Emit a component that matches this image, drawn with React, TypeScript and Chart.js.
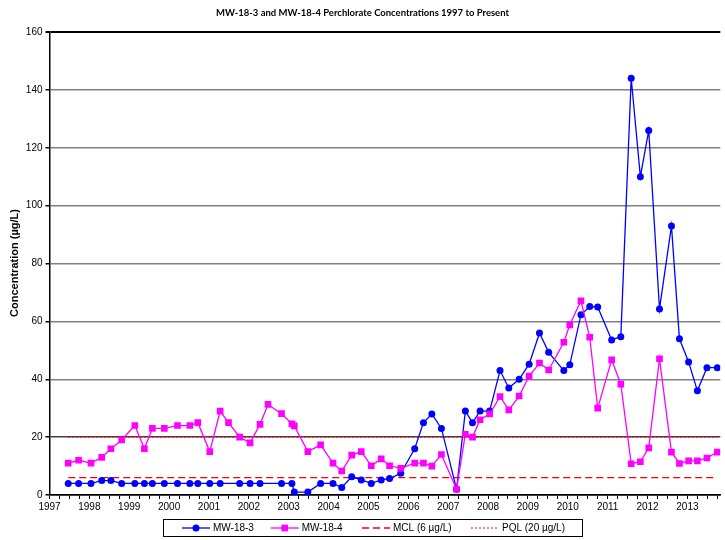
import React, { useEffect, useRef } from 'react';
import { Chart, registerables } from 'chart.js';

Chart.register(...registerables);

const TITLE = 'MW-18-3 and MW-18-4 Perchlorate Concentrations 1997 to Present';
const Y_TITLE = 'Concentration (µg/L)';

// Sampling dates as decimal years
const sampleDates = [
  1997.47, 1997.73, 1998.04, 1998.31, 1998.54, 1998.81, 1999.14, 1999.38, 1999.58, 1999.88,
  2000.21, 2000.52, 2000.72, 2001.02, 2001.28, 2001.49, 2001.77, 2002.03, 2002.28, 2002.48,
  2002.82, 2003.08, 2003.14, 2003.48, 2003.8, 2004.11, 2004.33, 2004.58, 2004.82, 2005.07,
  2005.32, 2005.53, 2005.81, 2006.16, 2006.38, 2006.59, 2006.83, 2007.21, 2007.43, 2007.61,
  2007.8, 2008.04, 2008.3, 2008.52, 2008.78, 2009.03, 2009.29, 2009.52, 2009.9, 2010.05,
  2010.33, 2010.55, 2010.75, 2011.1, 2011.33, 2011.59, 2011.82, 2012.03, 2012.3, 2012.6,
  2012.8, 2013.03, 2013.25, 2013.49, 2013.75,
];

const mw183 = [
  4, 4, 4, 5, 5, 4, 4, 4, 4, 4,
  4, 4, 4, 4, 4, null, 4, 4, 4, null,
  4, 4, 1, 1, 4, 4, 2.6, 6.3, 5.2, 4,
  5.2, 5.7, 7.5, 16, 25, 28, 23, 2, 29, 25,
  29, 29, 43, 37, 40, 45.2, 56, 49.3, 43, 45,
  62.3, 65.1, 65, 53.6, 54.7, 144, 110, 126, 64.3, 93,
  54, 46, 36, 44, 44,
];

const mw184 = [
  11, 12, 11, 13, 16, 19, 24, 16, 23, 23,
  24, 24, 25, 15, 29, 25, 20, 18, 24.4, 31.3,
  28.1, 24.6, 23.9, 15, 17.3, 11, 8.3, 13.8, 15, 10.1,
  12.5, 10.1, 9.2, 11, 11, 10, 14, 2, 21, 20,
  26, 28, 34, 29.4, 34.2, 41.1, 45.6, 43.2, 52.8, 58.8,
  67.1, 54.5, 30, 46.7, 38.3, 10.8, 11.5, 16.3, 47.1, 14.8,
  10.9, 11.8, 11.8, 12.8, 14.8,
];

const MCL = 6;
const PQL = 20;
const seriesNames = ['MW-18-3', 'MW-18-4', 'MCL (6 µg/L)', 'PQL (20 µg/L)'];
const yearLabels = ['1997', '1998', '1999', '2000', '2001', '2002', '2003', '2004', '2005',
  '2006', '2007', '2008', '2009', '2010', '2011', '2012', '2013'];
const yMin = 0;
const yMax = 160;
const yStep = 20;
const xMin = 1997;
const xMax = 2013.825;

const FONT = '"Liberation Sans", Arial, sans-serif';

const decorPlugin = {
  id: 'decor',
  afterDraw(chart: any) {
    const ctx = chart.ctx as CanvasRenderingContext2D;
    const ds = chart.data.datasets;
    ctx.save();
    ctx.fillStyle = '#000';
    ctx.textAlign = 'center';
    ctx.textBaseline = 'middle';
    ctx.font = 'bold 9.5px Lato, "Liberation Sans", sans-serif';
    ctx.fillText(TITLE, chart.width / 2, 13, 293);

    ctx.save();
    ctx.translate(14.5, 263);
    ctx.rotate(-Math.PI / 2);
    ctx.font = 'bold 11px ' + FONT;
    ctx.fillText(Y_TITLE, 0, 0);
    ctx.restore();

    // legend
    const bx = 163.5, by = 519.5, bw = 419, bh = 17;
    ctx.strokeStyle = '#000';
    ctx.lineWidth = 1;
    ctx.strokeRect(bx, by, bw, bh);
    const cy = by + bh / 2;
    const starts = [182, 270.7, 362, 471];
    const lineLen = 28;
    ctx.font = '10px ' + FONT;
    ctx.textAlign = 'left';
    for (let i = 0; i < 4; i++) {
      const d = ds[i];
      const x0 = starts[i];
      ctx.save();
      ctx.strokeStyle = d.borderColor;
      ctx.lineWidth = d.borderWidth;
      ctx.setLineDash(d.borderDash || []);
      ctx.beginPath();
      ctx.moveTo(x0, cy);
      ctx.lineTo(x0 + lineLen, cy);
      ctx.stroke();
      ctx.restore();
      if (i === 0) {
        ctx.fillStyle = d.backgroundColor;
        ctx.beginPath();
        ctx.arc(x0 + lineLen / 2, cy, d.pointRadius, 0, Math.PI * 2);
        ctx.fill();
      } else if (i === 1) {
        ctx.fillStyle = d.backgroundColor;
        const s = d.pointRadius * Math.SQRT1_2;
        ctx.fillRect(x0 + lineLen / 2 - s, cy - s, 2 * s, 2 * s);
      }
      ctx.fillStyle = '#000';
      ctx.fillText(seriesNames[i], x0 + lineLen + 3, cy + 0.5);
    }
    ctx.restore();
  },
};

export default function App() {
  const ref = useRef<HTMLCanvasElement | null>(null);

  useEffect(() => {
    if (!ref.current) return;
    const first = sampleDates[0];
    const last = sampleDates[sampleDates.length - 1];
    const xTicks: number[] = [];
    for (let i = 0; xMin + i * 0.25 <= xMax; i++) xTicks.push(xMin + i * 0.25);

    const chart = new Chart(ref.current, {
      type: 'line',
      data: {
        datasets: [
          {
            label: seriesNames[0],
            data: sampleDates.map((d, i) => ({ x: d, y: mw183[i] })),
            borderColor: '#0000ff',
            backgroundColor: '#0000ff',
            borderWidth: 1.3,
            pointStyle: 'circle',
            pointRadius: 3.5,
            pointBorderWidth: 0,
            spanGaps: true,
            order: 1,
          },
          {
            label: seriesNames[1],
            data: sampleDates.map((d, i) => ({ x: d, y: mw184[i] })),
            borderColor: '#ff00ff',
            backgroundColor: '#ff00ff',
            borderWidth: 1.3,
            pointStyle: 'rect',
            pointRadius: 4.7,
            pointBorderWidth: 0,
            spanGaps: true,
            order: 0,
          },
          {
            label: seriesNames[2],
            data: [{ x: first, y: MCL }, { x: last, y: MCL }],
            borderColor: '#ff0000',
            backgroundColor: '#ff0000',
            borderWidth: 1.3,
            borderDash: [7, 4],
            pointRadius: 0,
            order: 3,
          },
          {
            label: seriesNames[3],
            data: [{ x: first, y: PQL }, { x: last, y: PQL }],
            borderColor: '#ff0000',
            backgroundColor: '#ff0000',
            borderWidth: 1,
            borderDash: [2, 2],
            pointRadius: 0,
            order: 2,
          },
        ],
      } as any,
      options: {
        animation: false,
        responsive: false,
        devicePixelRatio: 1,
        layout: { padding: { top: 32, right: 2.5, bottom: 0, left: 0 } },
        plugins: { legend: { display: false }, tooltip: { enabled: false }, title: { display: false } },
        scales: {
          x: {
            type: 'linear',
            min: xMin,
            max: xMax,
            afterBuildTicks: (scale: any) => {
              scale.ticks = xTicks.map((v) => ({ value: v }));
            },
            afterFit: (scale: any) => {
              scale.height = 45;
            },
            grid: {
              drawOnChartArea: false,
              drawTicks: true,
              tickLength: 4,
              color: '#000',
              tickColor: '#000',
            },
            border: { display: true, color: '#000', width: 1.5 },
            ticks: {
              autoSkip: false,
              maxRotation: 0,
              minRotation: 0,
              padding: 2,
              color: '#000',
              font: { size: 10, family: FONT },
              callback: (v: any) => {
                const n = Number(v);
                if (Number.isInteger(n)) return yearLabels[n - xMin] ?? '';
                return '';
              },
            },
          },
          y: {
            type: 'linear',
            min: yMin,
            max: yMax,
            afterFit: (scale: any) => {
              scale.width = 49.5;
            },
            grid: {
              drawTicks: true,
              tickLength: 4,
              tickColor: '#000',
              color: (c: any) => {
                const v = c.tick ? c.tick.value : 0;
                if (v === yMax || v === yMin) return '#000';
                if (v === PQL) return '#404040';
                return '#808080';
              },
              lineWidth: (c: any) => {
                const v = c.tick ? c.tick.value : 0;
                return v === yMax ? 2 : 1.5;
              },
            },
            border: { display: true, color: '#000', width: 1.5 },
            ticks: {
              stepSize: yStep,
              padding: 3,
              color: '#000',
              font: { size: 10, family: FONT },
            },
          },
        },
      } as any,
      plugins: [decorPlugin],
    });
    return () => chart.destroy();
  }, []);

  return (
    <div style={{ position: 'absolute', left: 0, top: 0, width: 725, height: 540, background: '#fff' }}>
      <canvas ref={ref} width={725} height={540} style={{ display: 'block' }} />
    </div>
  );
}
